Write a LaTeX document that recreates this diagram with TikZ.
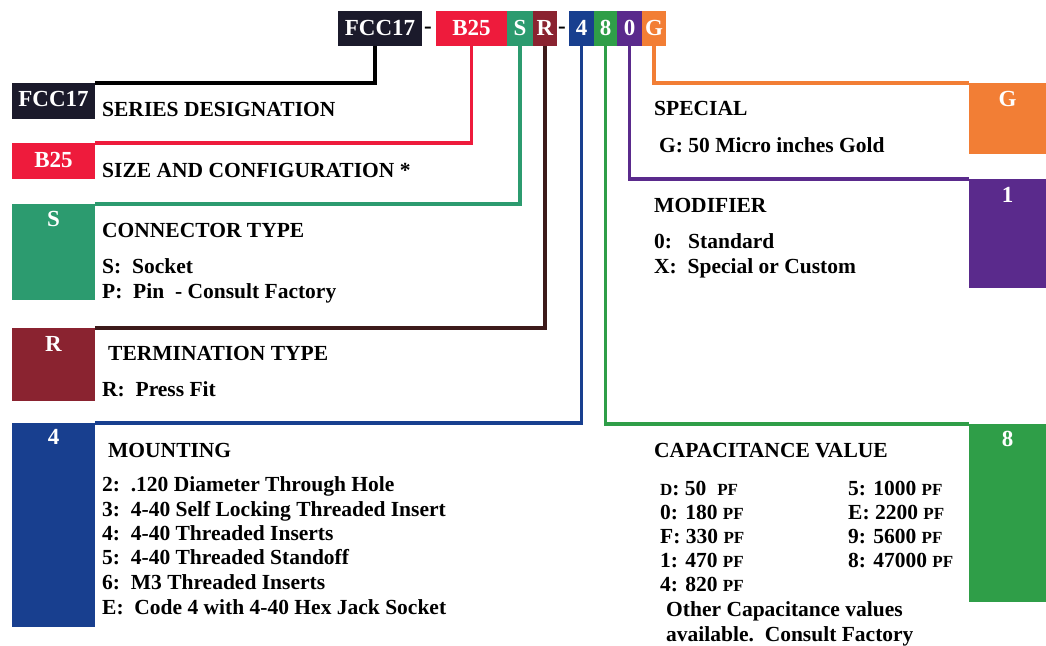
\documentclass[tikz,border=0pt]{standalone}
\usepackage{fontspec}
\setmainfont{Liberation Serif}
\definecolor{cblack}{HTML}{1B1A2B}
\definecolor{cred}{HTML}{EE1B3C}
\definecolor{cteal}{HTML}{2C9B6F}
\definecolor{cmaroon}{HTML}{8A2330}
\definecolor{cbrown}{HTML}{3D1A1A}
\definecolor{cnavy}{HTML}{183F8F}
\definecolor{cgreen}{HTML}{2F9E48}
\definecolor{cpurple}{HTML}{5A2A8C}
\definecolor{corange}{HTML}{F27E35}
\begin{document}
\begin{tikzpicture}[x=1pt,y=-1pt,
  cbox/.style={fill=#1, draw=none, inner sep=0, outer sep=0},
  lbl/.style={text=white, font=\fontsize{23}{23}\selectfont\bfseries, anchor=base, inner sep=0},
  txt/.style={font=\fontsize{21.5}{24}\selectfont\bfseries, anchor=base west, inner sep=0, text=black},
  conn/.style={draw=#1, line width=3.5pt},
]
\useasboundingbox[fill=white] (0,0) rectangle (1046,645);
\newcommand{\sPF}{{\fontsize{17}{17}\selectfont PF}}
% top code boxes
\node[cbox=cblack, minimum width=84pt, minimum height=35pt] (tF) at (380,28.5) {};
\node[cbox=cred, minimum width=71pt, minimum height=35pt] (tB) at (471.5,28.5) {};
\node[cbox=cteal, minimum width=26pt, minimum height=35pt] (tS) at (520,28.5) {};
\node[cbox=cmaroon, minimum width=24pt, minimum height=35pt] (tR) at (545,28.5) {};
\node[cbox=cnavy, minimum width=25pt, minimum height=35pt] (t4) at (581.5,28.5) {};
\node[cbox=cgreen, minimum width=23pt, minimum height=35pt] (t8) at (605.5,28.5) {};
\node[cbox=cpurple, minimum width=25pt, minimum height=35pt] (t0) at (629.5,28.5) {};
\node[cbox=corange, minimum width=24pt, minimum height=35pt] (tG) at (654,28.5) {};
\node[lbl] (tFl) at (380,35) {FCC17};
\node[lbl] (tBl) at (471.5,35) {B25};
\node[lbl] (tSl) at (520,35) {S};
\node[lbl] (tRl) at (545,35) {R};
\node[lbl] (t4l) at (581.5,35) {4};
\node[lbl] (t8l) at (605.5,35) {8};
\node[lbl] (t0l) at (629.5,35) {0};
\node[lbl] (tGl) at (654,35) {G};
\node[lbl, text=black] (d1) at (428,33) {-};
\node[lbl, text=black] (d2) at (562,33) {-};
% left boxes
\node[cbox=cblack, minimum width=83pt, minimum height=36pt] (lF) at (53.5,101) {};
\node[cbox=cred, minimum width=83pt, minimum height=36pt] (lB) at (53.5,161) {};
\node[cbox=cteal, minimum width=83pt, minimum height=96pt] (lS) at (53.5,252) {};
\node[cbox=cmaroon, minimum width=83pt, minimum height=73pt] (lR) at (53.5,364.5) {};
\node[cbox=cnavy, minimum width=83pt, minimum height=204pt] (l4) at (53.5,525) {};
\node[lbl] (lFl) at ([yshift=-23pt]lF.north) {FCC17};
\node[lbl] (lBl) at ([yshift=-24pt]lB.north) {B25};
\node[lbl] (lSl) at ([yshift=-22pt]lS.north) {S};
\node[lbl] (lRl) at ([yshift=-23pt]lR.north) {R};
\node[lbl] (l4l) at ([yshift=-21pt]l4.north) {4};
% right boxes
\node[cbox=corange, minimum width=77pt, minimum height=71pt] (rG) at (1007.5,118.5) {};
\node[cbox=cpurple, minimum width=77pt, minimum height=109pt] (r1) at (1007.5,233.5) {};
\node[cbox=cgreen, minimum width=77pt, minimum height=178pt] (r8) at (1007.5,513) {};
\node[lbl] (rGl) at ([yshift=-23pt]rG.north) {G};
\node[lbl] (r1l) at ([yshift=-23pt]r1.north) {1};
\node[lbl] (r8l) at ([yshift=-22pt]r8.north) {8};
% connectors
\draw[conn=black] ([xshift=-5pt]tF.south) |- (lF.north east);
\draw[conn=cred] (tB.south) |- (lB.north east);
\draw[conn=cteal] (tS.south) |- (lS.north east);
\draw[conn=cbrown] (tR.south) |- (lR.north east);
\draw[conn=cnavy] (t4.south) |- (l4.north east);
\draw[conn=cgreen] (t8.south) |- (r8.north west);
\draw[conn=cpurple] (t0.south) |- (r1.north west);
\draw[conn=corange] (tG.south) |- (rG.north west);
% left texts
\node[txt] (a1) at (102,116) {SERIES DESIGNATION};
\node[txt] (a2) at (102,177) {SIZE AND CONFIGURATION *};
\node[txt] (a3) at (102,237) {CONNECTOR TYPE};
\node[txt] (a4) at (102,273) {S:\ \ Socket};
\node[txt] (a5) at (102,298) {P:\ \ Pin\ \ - Consult Factory};
\node[txt] (a6) at (108,360) {TERMINATION TYPE};
\node[txt] (a7) at (102,396) {R:\ \ Press Fit};
\node[txt] (a8) at (108,457) {MOUNTING};
\node[txt] (m1) at (102,491) {2:\ \ .120 Diameter Through Hole};
\node[txt] (m2) at (102,516) {3:\ \ 4-40 Self Locking Threaded Insert};
\node[txt] (m3) at (102,540) {4:\ \ 4-40 Threaded Inserts};
\node[txt] (m4) at (102,564) {5:\ \ 4-40 Threaded Standoff};
\node[txt] (m5) at (102,589) {6:\ \ M3 Threaded Inserts};
\node[txt] (m6) at (102,614) {E:\ \ Code 4 with 4-40 Hex Jack Socket};
% right texts
\node[txt] (b1) at (654,115) {SPECIAL};
\node[txt] (b2) at (659,152) {G: 50 Micro inches Gold};
\node[txt] (b3) at (654,212) {MODIFIER};
\node[txt] (b4) at (654,248) {0:\ \ \ Standard};
\node[txt] (b5) at (654,273) {X:\ \ Special or Custom};
\node[txt] (b6) at (654,457) {CAPACITANCE VALUE};
\node[txt] (c1) at (660,495) {{\fontsize{17}{17}\selectfont D}: 50\ \ \sPF};
\node[txt] (c2) at (660,519) {0: 180 \sPF};
\node[txt] (c3) at (660,543) {F: 330 \sPF};
\node[txt] (c4) at (660,567) {1: 470 \sPF};
\node[txt] (c5) at (660,591) {4: 820 \sPF};
\node[txt] (c6) at (848,495) {5: 1000 \sPF};
\node[txt] (c7) at (848,519) {E: 2200 \sPF};
\node[txt] (c8) at (848,543) {9: 5600 \sPF};
\node[txt] (c9) at (848,567) {8: 47000 \sPF};
\node[txt] (c10) at (666,616) {Other Capacitance values};
\node[txt] (c11) at (666,641) {available.\ \ Consult Factory};
\end{tikzpicture}
\end{document}
